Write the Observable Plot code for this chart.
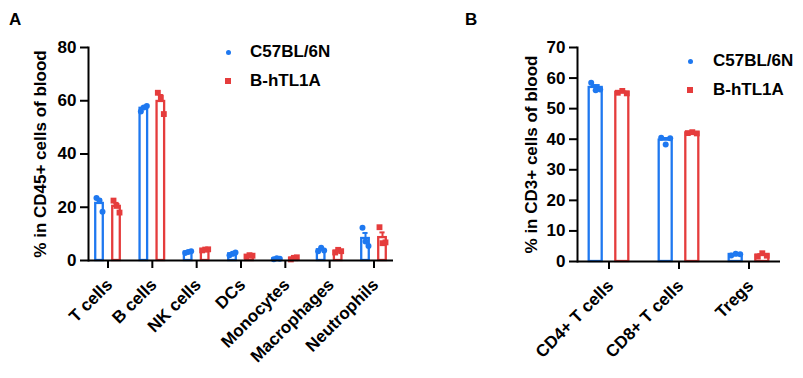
<!DOCTYPE html>
<html><head><meta charset="utf-8">
<script src="https://cdn.jsdelivr.net/npm/d3@7"></script>
<script src="https://cdn.jsdelivr.net/npm/@observablehq/plot@0.6"></script>
<style>
body{margin:0;background:#fff;}
#wrap{position:relative;width:803px;height:378px;overflow:hidden;font-family:"Liberation Sans",Arial,sans-serif;font-weight:bold;color:#000;}
.panel{position:absolute;top:0;}
.plab{position:absolute;font-size:17px;line-height:17px;font-weight:bold;}
.leg{position:absolute;font-size:17px;line-height:20px;height:20px;white-space:nowrap;}
.sym{position:absolute;}
</style>
</head><body>
<div id="wrap"></div>
<script>
// ---------- data ----------
const groups = ["C57BL/6N", "B-hTL1A"];
const groupColors = ["#1E78F0", "#E53C3C"];

const catsA = ["T cells", "B cells", "NK cells", "DCs", "Monocytes", "Macrophages", "Neutrophils"];
const wtA = [[23.5, 22.5, 18.3], [56.0, 57.5, 58.0], [2.8, 3.2, 3.5], [2.0, 2.5, 3.0], [0.5, 0.8, 0.7], [3.5, 4.8, 3.8], [12.3, 7.1, 5.4]];
const tgA = [[22.5, 20.5, 18.0], [63.0, 61.2, 55.0], [3.8, 4.1, 4.2], [1.5, 2.0, 1.8], [0.4, 1.0, 1.2], [3.0, 4.0, 3.5], [12.5, 6.5, 6.8]];
const yTicksA = [0, 20, 40, 60, 80];
const yLabelA = "% in CD45+ cells of blood";

const catsB = ["CD4+ T cells", "CD8+ T cells", "Tregs"];
const wtB = [[58.5, 56.0, 56.3], [40.5, 38.3, 40.3], [2.0, 2.5, 2.4]];
const tgB = [[55.2, 55.8, 55.0], [42.0, 42.3, 41.9], [1.6, 2.7, 1.9]];
const yTicksB = [0, 10, 20, 30, 40, 50, 60, 70];
const yLabelB = "% in CD3+ cells of blood";

// ---------- helpers ----------
function build(cats, wt, tg) {
  const summ = [], pts = [];
  [wt, tg].forEach((vals, gi) => {
    cats.forEach((c, ci) => {
      const v = vals[ci];
      const m = d3.mean(v), sem = d3.deviation(v) / Math.sqrt(v.length);
      summ.push({cat: c, group: groups[gi], gi, mean: m, sem});
      v.forEach((val, r) => pts.push({cat: c, group: groups[gi], gi, value: val, rep: r}));
    });
  });
  return {summ, pts};
}

function panel(o) {
  const {summ, pts} = build(o.cats, o.wt, o.tg);
  const marks = [];
  groups.forEach((g, gi) => {
    const col = groupColors[gi];
    const dx = o.off[gi];
    const s = summ.filter(d => d.gi === gi);
    marks.push(Plot.barY(s, {x: "cat", y: "mean", fill: "white", stroke: col, strokeWidth: 2.3, insetLeft: o.inset, insetRight: o.inset, dx}));
    marks.push(Plot.ruleX(s, {x: "cat", y1: "mean", y2: d => d.mean + d.sem, stroke: col, strokeWidth: 2, dx}));
    marks.push(Plot.tickY(s, {x: "cat", y: d => d.mean + d.sem, stroke: col, strokeWidth: 2, insetLeft: o.cap, insetRight: o.cap, dx}));
    [0, 1, 2].forEach(r => {
      marks.push(Plot.dot(pts.filter(d => d.gi === gi && d.rep === r), {
        x: "cat", y: "value", fill: col, stroke: "none",
        symbol: gi === 0 ? "circle" : "square", r: gi === 0 ? 3 : 3.3,
        dx: dx + o.jit[r]
      }));
    });
  });
  marks.push(Plot.ruleY([0], {stroke: "#000", strokeWidth: 2}));
  marks.push(Plot.frame({anchor: "left", stroke: "#000", strokeWidth: 2}));
  marks.push(Plot.axisY({ticks: o.yTicks, tickSize: 8, tickPadding: 4, strokeWidth: 2, label: o.yLabel, labelAnchor: "center", labelArrow: false, labelOffset: o.labelOffset}));
  marks.push(Plot.axisX({tickSize: 8, strokeWidth: 2, text: null, label: null}));
  marks.push(Plot.axisX({tickSize: 0, tickRotate: -45, tickPadding: 0, dy: 21.5, dx: 1.5, label: null}));
  return Plot.plot({
    width: o.width, height: 378,
    marginLeft: o.ml, marginRight: o.mr, marginTop: 47, marginBottom: o.mb,
    style: {fontFamily: "'Liberation Sans', Arial, sans-serif", fontSize: "17px", fontWeight: "bold", color: "#000", background: "white", overflow: "visible"},
    x: {type: "band", domain: o.cats, paddingInner: 0.5, paddingOuter: o.po, round: false},
    y: {domain: [0, o.yMax]},
    marks
  });
}

const wrap = document.getElementById("wrap");

const svgA = panel({cats: catsA, wt: wtA, tg: tgA, yTicks: yTicksA, yMax: 80, yLabel: yLabelA,
  width: 400, ml: 88, mr: 7, mb: 118, po: 0.19, inset: 7.3, cap: 8.5, off: [-8.5, 8.5], jit: [-3, 0, 3], labelOffset: 55});
svgA.classList.add("panel"); svgA.style.left = "0px";
wrap.appendChild(svgA);

const svgB = panel({cats: catsB, wt: wtB, tg: tgB, yTicks: yTicksB, yMax: 70, yLabel: yLabelB,
  width: 403, ml: 177, mr: 23, mb: 117, po: 0.2, inset: 11, cap: 13, off: [-13.3, 13.3], jit: [-4.5, 0, 4.5], labelOffset: 53});
svgB.classList.add("panel"); svgB.style.left = "400px";
wrap.appendChild(svgB);

// panel letters
[["A", 9], ["B", 465]].forEach(([t, x]) => {
  const d = document.createElement("div");
  d.className = "plab"; d.textContent = t;
  d.style.left = x + "px"; d.style.top = "11px";
  wrap.appendChild(d);
});

// legends
function legend(symX, textX, ys) {
  groups.forEach((g, gi) => {
    const y = ys[gi];
    const s = document.createElement("div");
    s.className = "sym";
    const sz = gi === 0 ? 5 : 6;
    s.style.width = sz + "px"; s.style.height = sz + "px";
    s.style.left = (symX - sz / 2) + "px"; s.style.top = (y - sz / 2) + "px";
    s.style.background = groupColors[gi];
    if (gi === 0) s.style.borderRadius = "50%";
    wrap.appendChild(s);
    const t = document.createElement("div");
    t.className = "leg"; t.textContent = g;
    t.style.left = textX + "px"; t.style.top = (y - 10) + "px";
    wrap.appendChild(t);
  });
}
legend(228, 250, [52, 80.5]);
legend(690, 713, [61, 90]);
</script>
</body></html>
